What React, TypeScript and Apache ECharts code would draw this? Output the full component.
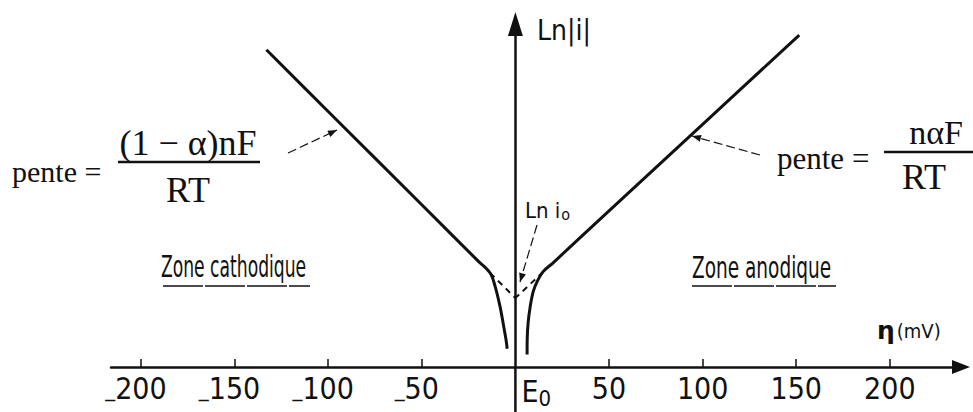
import React, { useEffect, useRef } from "react";
import * as echarts from "echarts";

// ---- data (η in mV, Ln|i| in arbitrary units) ----
const xTickValues = [-200, -150, -100, -50, 50, 100, 150, 200];
const xLabelValues = [-200, -150, -100, -50, 0, 50, 100, 150, 200];
const cathodicEta = [-133, -100, -50, -20, -13.5, -10.8, -8.2, -6.6, -5.0, -4.4];
const cathodicLnI = [8.88, 7.15, 4.54, 2.97, 2.63, 2.25, 1.69, 1.24, 0.76, 0.51];
const anodicEta = [6.25, 6.3, 6.8, 7.9, 9.5, 11.6, 14.8, 20, 50, 100, 151.6];
const anodicLnI = [0.35, 0.76, 1.24, 1.69, 2.11, 2.39, 2.67, 2.91, 4.37, 6.79, 9.29];
const cathodicTangentEta = [-13.5, 0];
const cathodicTangentLnI = [2.63, 1.93];
const anodicTangentEta = [14.8, 0];
const anodicTangentLnI = [2.66, 1.93];
// the ordinate axis is continued below the abscissa (E0 line)
const e0LineEta = [0, 0];
const e0LineLnI = [0, -1.27];

const X_MIN = -216;
const X_MAX = 238;
const Y_MIN = 0;
const Y_MAX = 9.6;

const HAND = "'DejaVu Sans Condensed', 'DejaVu Sans', sans-serif";
const SERIF = "'Liberation Serif', 'DejaVu Serif', serif";
const INK = "#111";

const zip = (xs: number[], ys: number[]) => xs.map((x, i) => [x, ys[i]]);

function arrowHead(tx: number, ty: number, fx: number, fy: number, len: number, w: number) {
  const dx = tx - fx;
  const dy = ty - fy;
  const d = Math.hypot(dx, dy);
  const ux = dx / d;
  const uy = dy / d;
  const bx = tx - ux * len;
  const by = ty - uy * len;
  return {
    type: "polygon",
    shape: {
      points: [
        [tx, ty],
        [bx - uy * w, by + ux * w],
        [bx + uy * w, by - ux * w],
      ],
    },
    style: { fill: INK },
  };
}

function annot(fx: number, fy: number, tx: number, ty: number) {
  return [
    {
      type: "line",
      shape: { x1: fx, y1: fy, x2: tx, y2: ty },
      style: { stroke: INK, lineWidth: 1.2, lineDash: [9, 4] },
    },
    arrowHead(tx, ty, fx, fy, 9, 3.5),
  ];
}

export default function App() {
  const ref = useRef<HTMLDivElement>(null);
  useEffect(() => {
    const chart = echarts.init(ref.current!, null, { renderer: "svg" });
    const curveStyle = { color: INK, width: 3 };
    chart.setOption({
      animation: false,
      backgroundColor: "#fff",
      grid: { left: 111, right: 12, top: 24, bottom: 45, containLabel: false, outerBoundsMode: "none" },
      xAxis: {
        type: "value",
        min: X_MIN,
        max: X_MAX,
        axisLine: {
          onZero: false,
          symbol: ["none", "triangle"],
          symbolSize: [14, 18],
          lineStyle: { color: INK, width: 2.5 },
        },
        axisTick: {
          show: true,
          inside: true,
          length: 8,
          customValues: xTickValues,
          lineStyle: { color: INK, width: 1.5 },
        },
        axisLabel: {
          show: true,
          customValues: xLabelValues,
          margin: 6,
          color: INK,
          fontFamily: HAND,
          fontSize: 30,
          formatter: (v: number) =>
            v === 0 ? "{e|E}{s|0}" : v < 0 ? "{m|_}{n|" + -v + "}" : String(v),
          rich: {
            e: { fontFamily: HAND, fontSize: 30, color: INK, padding: [0, 0, 0, 42] },
            s: { fontFamily: HAND, fontSize: 22, color: INK, padding: [14, 0, 0, 0] },
            m: { fontFamily: HAND, fontSize: 22, color: INK },
            n: { fontFamily: HAND, fontSize: 30, color: INK, padding: [0, 10, 0, 0] },
          },
        },
        splitLine: { show: false },
      },
      yAxis: {
        type: "value",
        min: Y_MIN,
        max: Y_MAX,
        axisLine: {
          onZero: true,
          symbol: ["none", "triangle"],
          symbolSize: [15, 24],
          lineStyle: { color: INK, width: 2.5 },
        },
        axisTick: { show: false },
        axisLabel: { show: false },
        splitLine: { show: false },
      },
      series: [
        {
          type: "line",
          name: "cathodique",
          data: zip(cathodicEta, cathodicLnI),
          smooth: 0.35,
          showSymbol: false,
          lineStyle: curveStyle,
        },
        {
          type: "line",
          name: "anodique",
          data: zip(anodicEta, anodicLnI),
          smooth: 0.35,
          showSymbol: false,
          lineStyle: curveStyle,
        },
        {
          type: "line",
          name: "tangente cathodique",
          data: zip(cathodicTangentEta, cathodicTangentLnI),
          showSymbol: false,
          lineStyle: { color: INK, width: 2, type: [6, 5] },
        },
        {
          type: "line",
          name: "tangente anodique",
          data: zip(anodicTangentEta, anodicTangentLnI),
          showSymbol: false,
          lineStyle: { color: INK, width: 2, type: [6, 5] },
        },
        {
          type: "line",
          name: "E0",
          data: zip(e0LineEta, e0LineLnI),
          clip: false,
          showSymbol: false,
          lineStyle: { color: INK, width: 2.5 },
        },
      ],
      graphic: [
        {
          type: "text",
          x: 537,
          y: 16,
          style: { text: "Ln|i|", fontFamily: HAND, fontSize: 28, fill: INK },
        },
        {
          type: "text",
          x: 525,
          y: 198,
          style: {
            text: "{a|Ln i}{b|o}",
            rich: {
              a: { fontFamily: HAND, fontSize: 22, fill: INK },
              b: { fontFamily: HAND, fontSize: 16, fill: INK, padding: [8, 0, 0, 1] },
            },
          },
        },
        {
          type: "text",
          x: 877,
          y: 318,
          style: {
            text: "{a|η}{b|(mV)}",
            rich: {
              a: { fontFamily: "'DejaVu Sans', sans-serif", fontWeight: "bold", fontSize: 25, fill: INK },
              b: { fontFamily: HAND, fontSize: 20, fill: INK, padding: [0, 0, 0, 2] },
            },
          },
        },
        {
          type: "text",
          x: 161,
          y: 252,
          scaleX: 0.636,
          style: { text: "Zone cathodique", fontFamily: HAND, fontSize: 30, fill: INK },
        },
        {
          type: "line",
          shape: { x1: 163, y1: 286, x2: 310, y2: 286 },
          style: { stroke: INK, lineWidth: 1.5, lineDash: [40, 2] },
        },
        {
          type: "text",
          x: 692,
          y: 252,
          scaleX: 0.686,
          style: { text: "Zone anodique", fontFamily: HAND, fontSize: 30, fill: INK },
        },
        {
          type: "line",
          shape: { x1: 692, y1: 286, x2: 836, y2: 286 },
          style: { stroke: INK, lineWidth: 1.5, lineDash: [40, 2] },
        },
        // left formula
        {
          type: "text",
          x: 12,
          y: 171,
          style: { text: "pente =", fontFamily: SERIF, fontSize: 30, fill: INK, verticalAlign: "middle" },
        },
        {
          type: "text",
          x: 188,
          y: 143,
          style: { text: "(1 − α)nF", fontFamily: SERIF, fontSize: 36, fill: INK, align: "center", verticalAlign: "middle" },
        },
        {
          type: "line",
          shape: { x1: 118, y1: 162, x2: 260, y2: 162 },
          style: { stroke: INK, lineWidth: 2.5 },
        },
        {
          type: "text",
          x: 188,
          y: 190,
          style: { text: "RT", fontFamily: SERIF, fontSize: 36, fill: INK, align: "center", verticalAlign: "middle" },
        },
        // right formula
        {
          type: "text",
          x: 777,
          y: 158,
          style: { text: "pente =", fontFamily: SERIF, fontSize: 31, fill: INK, verticalAlign: "middle" },
        },
        {
          type: "text",
          x: 936,
          y: 132,
          style: { text: "nαF", fontFamily: SERIF, fontSize: 34, fill: INK, align: "center", verticalAlign: "middle" },
        },
        {
          type: "line",
          shape: { x1: 884, y1: 152, x2: 973, y2: 152 },
          style: { stroke: INK, lineWidth: 2.5 },
        },
        {
          type: "text",
          x: 924,
          y: 177,
          style: { text: "RT", fontFamily: SERIF, fontSize: 36, fill: INK, align: "center", verticalAlign: "middle" },
        },
        ...annot(288, 153, 337, 130),
        ...annot(760, 155, 692, 136),
        ...annot(537, 225, 520, 282),
      ],
    });
    return () => chart.dispose();
  }, []);
  return (
    <div
      ref={ref}
      style={{ position: "absolute", left: 0, top: 0, width: 973, height: 412, background: "#fff" }}
    />
  );
}
